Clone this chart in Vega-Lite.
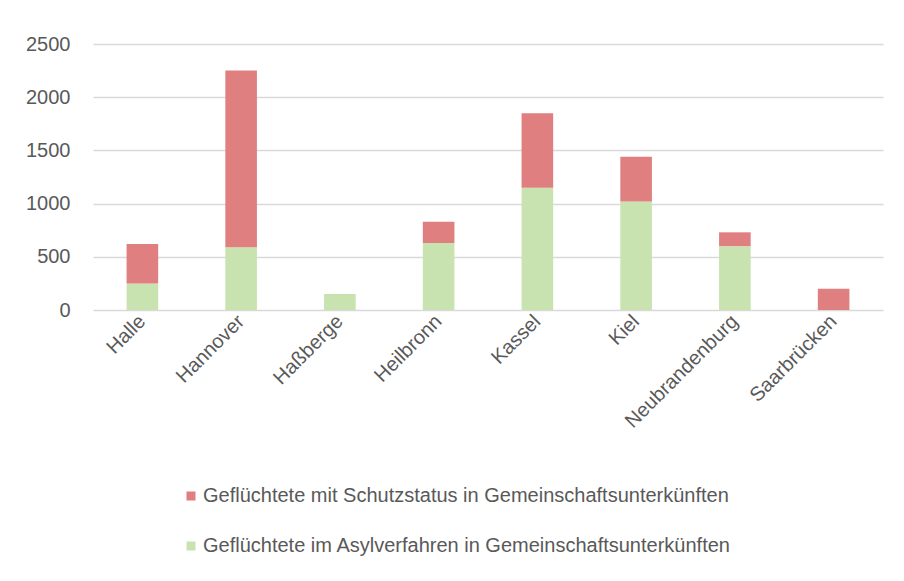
{
  "$schema": "https://vega.github.io/schema/vega-lite/v6.json",
  "width": 790,
  "height": 266,
  "autosize": {"type": "none"},
  "padding": {"left": 93, "top": 44, "right": 21, "bottom": 271},
  "background": "white",
  "config": {
    "view": {"stroke": null},
    "font": "Liberation Sans",
    "axis": {"labelFont": "Liberation Sans", "labelColor": "#595959", "labelFontSize": 20}
  },
  "data": {
    "values": [
      {"Ort": "Halle", "Serie": "Geflüchtete im Asylverfahren in Gemeinschaftsunterkünften", "Anzahl": 250},
      {"Ort": "Halle", "Serie": "Geflüchtete mit Schutzstatus in Gemeinschaftsunterkünften", "Anzahl": 370},
      {"Ort": "Hannover", "Serie": "Geflüchtete im Asylverfahren in Gemeinschaftsunterkünften", "Anzahl": 590},
      {"Ort": "Hannover", "Serie": "Geflüchtete mit Schutzstatus in Gemeinschaftsunterkünften", "Anzahl": 1660},
      {"Ort": "Haßberge", "Serie": "Geflüchtete im Asylverfahren in Gemeinschaftsunterkünften", "Anzahl": 150},
      {"Ort": "Haßberge", "Serie": "Geflüchtete mit Schutzstatus in Gemeinschaftsunterkünften", "Anzahl": 0},
      {"Ort": "Heilbronn", "Serie": "Geflüchtete im Asylverfahren in Gemeinschaftsunterkünften", "Anzahl": 630},
      {"Ort": "Heilbronn", "Serie": "Geflüchtete mit Schutzstatus in Gemeinschaftsunterkünften", "Anzahl": 200},
      {"Ort": "Kassel", "Serie": "Geflüchtete im Asylverfahren in Gemeinschaftsunterkünften", "Anzahl": 1150},
      {"Ort": "Kassel", "Serie": "Geflüchtete mit Schutzstatus in Gemeinschaftsunterkünften", "Anzahl": 700},
      {"Ort": "Kiel", "Serie": "Geflüchtete im Asylverfahren in Gemeinschaftsunterkünften", "Anzahl": 1020},
      {"Ort": "Kiel", "Serie": "Geflüchtete mit Schutzstatus in Gemeinschaftsunterkünften", "Anzahl": 420},
      {"Ort": "Neubrandenburg", "Serie": "Geflüchtete im Asylverfahren in Gemeinschaftsunterkünften", "Anzahl": 600},
      {"Ort": "Neubrandenburg", "Serie": "Geflüchtete mit Schutzstatus in Gemeinschaftsunterkünften", "Anzahl": 130},
      {"Ort": "Saarbrücken", "Serie": "Geflüchtete im Asylverfahren in Gemeinschaftsunterkünften", "Anzahl": 0},
      {"Ort": "Saarbrücken", "Serie": "Geflüchtete mit Schutzstatus in Gemeinschaftsunterkünften", "Anzahl": 200}
    ]
  },
  "mark": {"type": "bar"},
  "encoding": {
    "x": {
      "field": "Ort",
      "type": "nominal",
      "sort": null,
      "scale": {"paddingInner": 0.68, "paddingOuter": 0.34},
      "axis": {
        "title": null,
        "labelAngle": -45,
        "labelAlign": "right",
        "labelBaseline": "middle",
        "labelPadding": 8,
        "ticks": false,
        "domain": false
      }
    },
    "y": {
      "field": "Anzahl",
      "type": "quantitative",
      "stack": "zero",
      "scale": {"domain": [0, 2500]},
      "axis": {
        "title": null,
        "format": "d",
        "values": [0, 500, 1000, 1500, 2000, 2500],
        "ticks": false,
        "domain": false,
        "labelPadding": 23,
        "gridColor": "#d9d9d9",
        "gridWidth": 1.5
      }
    },
    "color": {
      "field": "Serie",
      "type": "nominal",
      "scale": {
        "domain": ["Geflüchtete mit Schutzstatus in Gemeinschaftsunterkünften", "Geflüchtete im Asylverfahren in Gemeinschaftsunterkünften"],
        "range": ["#df7f80", "#c8e2b0"]
      },
      "legend": {
        "title": null,
        "orient": "none",
        "direction": "vertical",
        "legendX": 88,
        "legendY": 442,
        "symbolType": "square",
        "symbolSize": 81,
        "symbolStrokeWidth": 0,
        "labelFont": "Liberation Sans",
        "labelFontSize": 20,
        "labelColor": "#595959",
        "labelOffset": 2,
        "rowPadding": 30,
        "labelLimit": 800
      }
    },
    "order": {"field": "Serie", "sort": "ascending"}
  }
}
